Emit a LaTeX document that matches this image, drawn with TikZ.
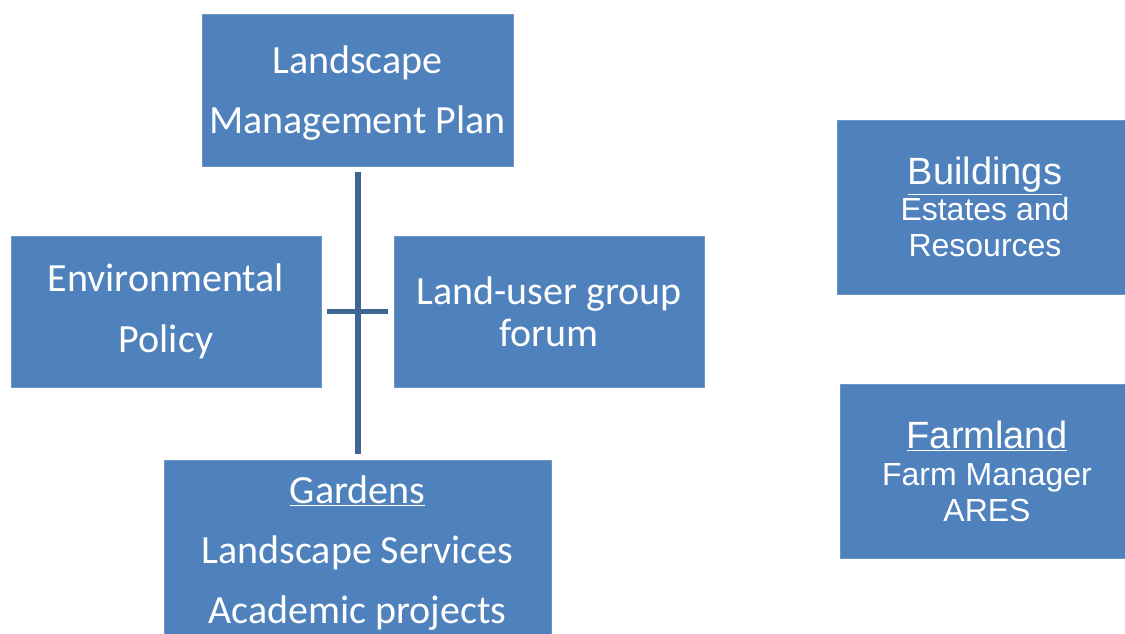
\documentclass[tikz,border=0pt]{standalone}
\usepackage{fontspec}
\setmainfont{Carlito}
\newfontfamily\arialf{Liberation Sans}
\definecolor{boxblue}{HTML}{4F81BD}
\definecolor{boxedge}{HTML}{6F94C6}
\definecolor{linkblue}{HTML}{3F6592}
\tikzset{
  box/.style={fill=boxblue, draw=boxedge, line width=0.8pt, text=white, align=center, inner sep=0pt},
  calfont/.style={font=\fontsize{40}{#1}\selectfont},
  arfont/.style={font=\arialf\fontsize{32}{36}\selectfont},
  link/.style={draw=linkblue, line width=6pt}
}
\begin{document}
\begin{tikzpicture}[x=1pt,y=-1pt]
\useasboundingbox (0,0) rectangle (1125,633);
\node[box, calfont=60, minimum width=311, minimum height=152, text depth=0pt] (lmp) at (357.5,90) {Landscape\\Management Plan};
\node[box, calfont=61, minimum width=310, minimum height=151] (env) at (166,311.5) {Environmental\\Policy};
\node[box, calfont=42, minimum width=310, minimum height=151] (land) at (549,311.5) {Land-user group\\forum};
\node[box, calfont=60, minimum width=387, minimum height=186] (gard) at (357.5,553) {\underline{Gardens}\\Landscape Services\\Academic projects};
\node[box, arfont, minimum width=296, minimum height=174] (bld) at (985,207) {{\fontsize{38}{36}\selectfont\underline{Buildings}}\\Estates and\\Resources};
\node[box, arfont, minimum width=294, minimum height=174] (farm) at (987,471) {{\fontsize{38}{36}\selectfont\underline{Farmland}}\\[1pt]Farm Manager\\ARES};
\draw[link, shorten <=6pt, shorten >=6pt] (lmp.south) -- (gard.north);
\draw[link, line width=5pt, shorten <=6pt, shorten >=6pt] (env.east) -- (land.west);
\end{tikzpicture}
\end{document}
